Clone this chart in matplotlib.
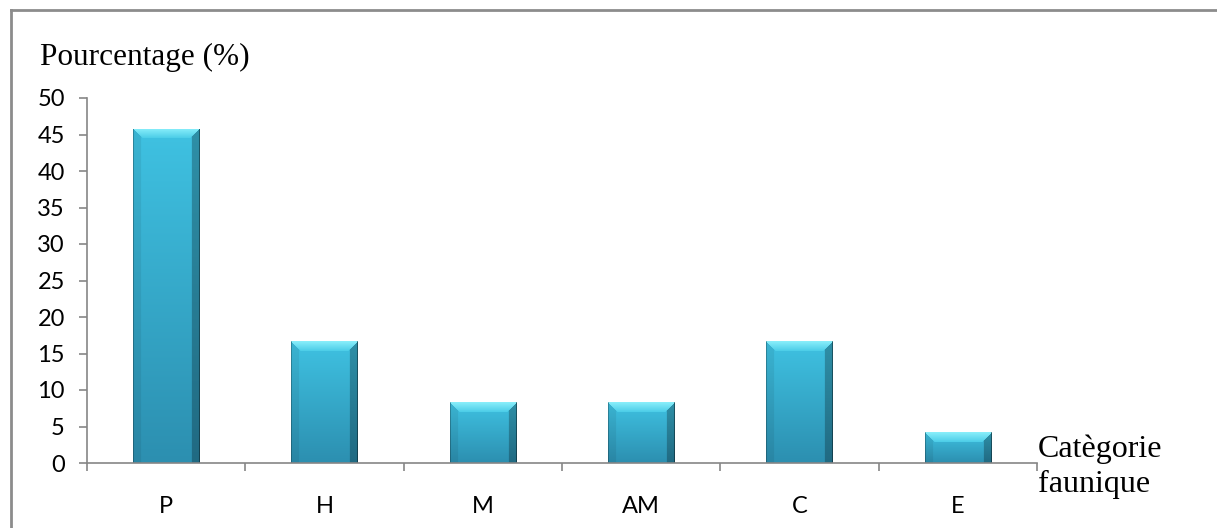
import matplotlib.pyplot as plt
import numpy as np
from matplotlib.lines import Line2D

# Répartition par catégorie faunique
categories = ["P", "H", "M", "AM", "C", "E"]
pourcentages = [45.8, 16.7, 8.3, 8.3, 16.7, 4.2]

W, H, DPI = 1217, 528, 100
fig = plt.figure(figsize=(W / DPI, H / DPI), dpi=DPI)
ax = fig.add_axes([87 / W, 1 - 463 / H, (1037 - 87) / W, (463 - 98) / H])

axis_gray = "#868686"
bars = ax.bar(range(len(categories)), pourcentages, width=0.42, color="#3bbde0",
              edgecolor="none", zorder=2)

ax.set_xlim(-0.5, len(categories) - 0.5)
ax.set_ylim(0, 50)


def hexrgb(h):
    h = h.lstrip("#")
    return np.array([int(h[k:k + 2], 16) / 255 for k in (0, 2, 4)])


def bevel_image(w, h, b=10):
    top_c, bot_c = hexrgb("#3fc2e2"), hexrgb("#2c8fb0")
    t = np.linspace(0, 1, h)[:, None, None]
    img = top_c * (1 - t) + bot_c * t
    img = np.broadcast_to(img, (h, w, 3)).copy()
    ii, jj = np.mgrid[0:h, 0:w]
    right = w - 1 - jj
    # facettes du biseau
    top = (ii < b) & (ii <= jj) & (ii <= right)
    left = (jj < b - 2) & (jj < ii) & ~top
    rgt = (right < b - 2) & (right < ii) & ~top
    fade = (ii / b)[..., None]
    light = hexrgb("#88eefa") * (1 - fade) + hexrgb("#48cbe7") * fade
    img[top] = light[top]
    img[left] = img[left] * 0.93
    img[rgt] = img[rgt] * 0.74
    img[:, 0] *= 0.75
    img[:, -1] *= 0.6
    return np.clip(img, 0, 1)


px_per_unit = (463 - 98) / 50
for rect in bars:
    x0, wdt, hgt = rect.get_x(), rect.get_width(), rect.get_height()
    wpx = int(round(wdt * (1037 - 87) / len(categories)))
    hpx = max(int(round(hgt * px_per_unit)), 2)
    im = ax.imshow(bevel_image(wpx, hpx), extent=(x0, x0 + wdt, 0, hgt),
                   aspect="auto", interpolation="bilinear", zorder=3)
    im.set_clip_path(rect)

for side in ["top", "right"]:
    ax.spines[side].set_visible(False)
for side in ["left", "bottom"]:
    ax.spines[side].set_color(axis_gray)
    ax.spines[side].set_linewidth(1.2)
    ax.spines[side].set_zorder(4)

ax.set_yticks(range(0, 51, 5))
ax.tick_params(axis="y", direction="out", length=6, width=1.2, color=axis_gray,
               pad=10, labelsize=17)
ax.set_xticks(range(len(categories)))
ax.set_xticklabels(categories)
ax.set_xticks(np.arange(-0.5, len(categories)), minor=True)
ax.tick_params(axis="x", which="major", length=0, pad=24, labelsize=17)
ax.tick_params(axis="x", which="minor", direction="out", length=6, width=1.2,
               color=axis_gray)
for lab in ax.get_xticklabels() + ax.get_yticklabels():
    lab.set_fontfamily("Lato")

serif = "Liberation Serif"
fig.text(40 / W, 1 - 65 / H, "Pourcentage (%)", fontsize=22.5, family=serif)
fig.text(1038 / W, 1 - 492 / H, "Catègorie\nfaunique", fontsize=23,
         family=serif, linespacing=1.28)

# cadre du graphique
fig.add_artist(Line2D([11 / W, 11 / W], [0, 1 - 10 / H], color="#8c8c8c",
                      lw=2, transform=fig.transFigure))
fig.add_artist(Line2D([11 / W, 1], [1 - 10 / H, 1 - 10 / H], color="#8c8c8c",
                      lw=2, transform=fig.transFigure))

fig.savefig("out.png", dpi=DPI)
